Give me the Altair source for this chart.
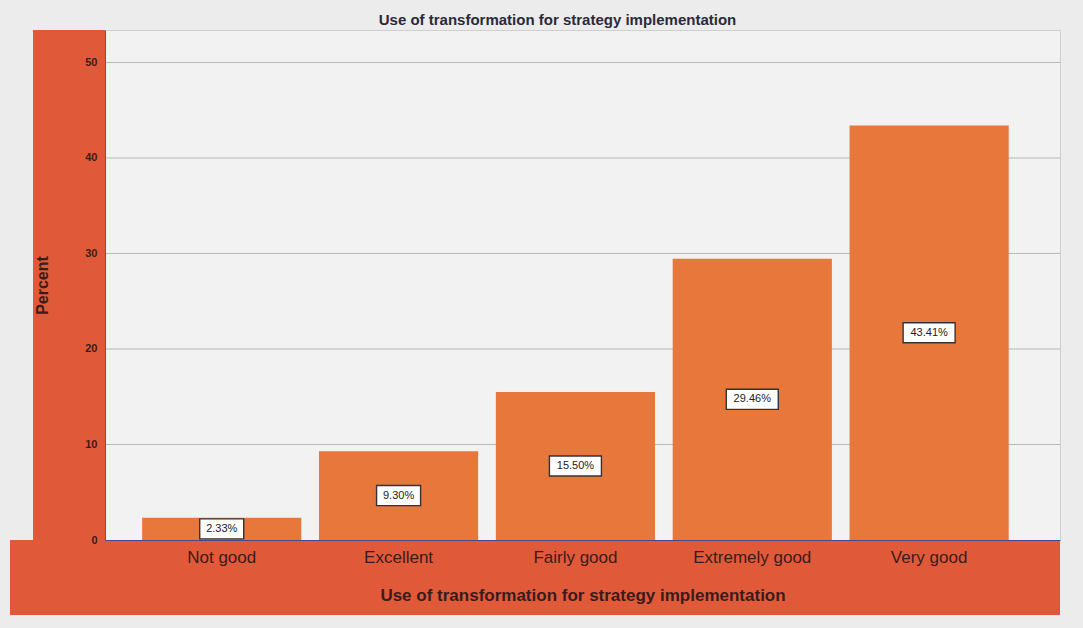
import altair as alt
import pandas as pd

# Ratings and their share of respondents (percent)
categories = ["Not good", "Excellent", "Fairly good", "Extremely good", "Very good"]
percents = [2.33, 9.30, 15.50, 29.46, 43.41]
labels = ["2.33%", "9.30%", "15.50%", "29.46%", "43.41%"]
y_ticks = [0, 10, 20, 30, 40, 50]

df = pd.DataFrame({"category": categories, "percent": percents, "label": labels})
grid_df = pd.DataFrame({"tick": y_ticks[1:]})

W, H = 955, 510
BAR = "#E8773C"
STRIP = "#E05A3A"
INK = "#3a1c1c"

x_enc = alt.X(
    "category:N",
    sort=categories,
    scale=alt.Scale(paddingInner=0.1, paddingOuter=0.25, align=0.42),
    axis=alt.Axis(
        title="Use of transformation for strategy implementation",
        labelAngle=0,
        labelFontSize=17,
        labelColor=INK,
        labelFont="Liberation Sans",
        labelPadding=9,
        ticks=False,
        domainColor="#4a4a8a",
        titleFontSize=17,
        titleFont="Liberation Sans",
        titleFontWeight="bold",
        titleColor=INK,
        titlePadding=22,
        grid=False,
        zindex=1,
    ),
)
y_scale = alt.Scale(domain=[0, 53.4], nice=False)

base = alt.Chart(df)

# shaded axis bands behind the axes
left_band = base.mark_rect(color=STRIP, clip=False).encode(
    x=alt.value(-72), x2=alt.value(0), y=alt.value(0), y2=alt.value(H)
)
bottom_band = base.mark_rect(color=STRIP, clip=False).encode(
    x=alt.value(-95), x2=alt.value(W), y=alt.value(H), y2=alt.value(H + 75)
)

# horizontal gridlines, kept behind the bars
grid = alt.Chart(grid_df).mark_rule(color="#b8b8b8", strokeWidth=1).encode(
    y=alt.Y("tick:Q", scale=y_scale)
)

bars = base.mark_bar(color=BAR).encode(
    x=x_enc,
    y=alt.Y(
        "percent:Q",
        scale=y_scale,
        axis=alt.Axis(
            title="Percent",
            values=y_ticks,
            ticks=False,
            grid=False,
            labelFontSize=11,
            labelFontWeight="bold",
            labelColor=INK,
            labelFont="Liberation Sans",
            labelPadding=8,
            domainColor="#6a4a9a",
            titleFontSize=16,
            titleFont="Liberation Sans",
            titleFontWeight="bold",
            titleColor=INK,
            titlePadding=34,
            zindex=1,
        ),
    ),
)

# value boxes at the middle of each bar
boxed = base.transform_calculate(
    lo="datum.percent / 2 - 1.05", hi="datum.percent / 2 + 1.05", mid="datum.percent / 2"
)
box_short = boxed.transform_filter("datum.percent < 10").mark_bar(
    width=44, color="white", stroke="#333333", strokeWidth=1.4
).encode(x=alt.X("category:N", sort=categories), y="lo:Q", y2="hi:Q")
box_long = boxed.transform_filter("datum.percent >= 10").mark_bar(
    width=52, color="white", stroke="#333333", strokeWidth=1.4
).encode(x=alt.X("category:N", sort=categories), y="lo:Q", y2="hi:Q")
box_text = boxed.mark_text(
    font="Liberation Sans", fontSize=11, color="#222222", baseline="middle"
).encode(x=alt.X("category:N", sort=categories), y="mid:Q", text="label:N")

chart = (
    alt.layer(left_band, bottom_band, grid, bars, box_short, box_long, box_text)
    .properties(
        width=W,
        height=H,
        title=alt.TitleParams(
            "Use of transformation for strategy implementation",
            font="Liberation Sans",
            fontSize=15,
            fontWeight="bold",
            color="#2a2a3a",
            offset=2,
            dx=-25,
        ),
        autosize=alt.AutoSizeParams(type="none"),
        padding={"left": 105, "top": 30, "right": 23, "bottom": 88},
        background="#ececec",
    )
    .configure_view(fill="#f2f2f2", stroke="#cfcfcf")
)

chart.save("out.html", embed_options={"renderer": "svg", "actions": False})
